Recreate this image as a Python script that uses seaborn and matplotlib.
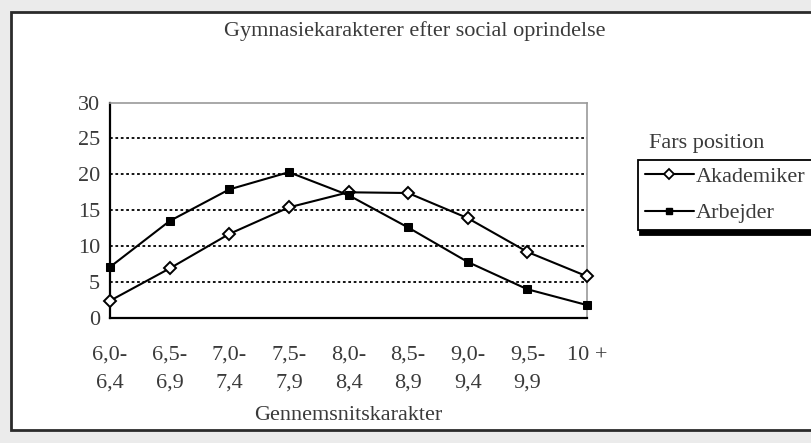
import numpy as np
import pandas as pd
import matplotlib.pyplot as plt
import seaborn as sns
from matplotlib.patches import Rectangle

# data
karakterer = ['6,0-\n6,4', '6,5-\n6,9', '7,0-\n7,4', '7,5-\n7,9', '8,0-\n8,4',
              '8,5-\n8,9', '9,0-\n9,4', '9,5-\n9,9', '10 +']
akademiker = [2.4, 6.9, 11.7, 15.4, 17.5, 17.4, 13.9, 9.2, 5.8]
arbejder = [7.1, 13.5, 17.9, 20.3, 17.1, 12.6, 7.8, 4.0, 1.8]

df = pd.DataFrame({
    'pos': list(range(len(karakterer))) * 2,
    'andel': akademiker + arbejder,
    'Fars position': ['Akademiker'] * len(akademiker) + ['Arbejder'] * len(arbejder),
})

sns.set_style('white')
plt.rcParams['font.family'] = ['Liberation Serif', 'DejaVu Serif']
txt = '#3a3a3a'
fs = 16

fig = plt.figure(figsize=(8.11, 4.43), dpi=100)
fig.patch.set_facecolor('#ebebeb')

# white panel with dark frame
fig.patches.append(Rectangle((11 / 811, 13 / 443), 810 / 811, 418 / 443,
                             transform=fig.transFigure, facecolor='white',
                             edgecolor='#2b2b2b', linewidth=2, zorder=-10))

ax = fig.add_axes([110 / 811, 1 - 318 / 443, 477 / 811, 215.5 / 443])
ax.set_facecolor('white')

sns.lineplot(data=df, x='pos', y='andel', hue='Fars position', style='Fars position',
             palette=['black', 'black'], markers={'Akademiker': 'D', 'Arbejder': 's'},
             dashes=False, linewidth=1.5, markersize=6, ax=ax, legend=False,
             clip_on=False, zorder=3)
# open diamonds for Akademiker, filled squares for Arbejder
ax.lines[0].set_markerfacecolor('white')
ax.lines[0].set_markeredgecolor('black')
ax.lines[0].set_markeredgewidth(1.4)
ax.lines[0].set_markersize(6.5)
ax.lines[1].set_markerfacecolor('black')
ax.lines[1].set_markeredgecolor('black')
ax.lines[1].set_markersize(5.5)

ax.set_xlim(0, 8)
ax.set_ylim(0, 30)
ax.set_yticks(range(0, 31, 5))
ax.set_xticks(range(len(karakterer)))
ax.set_xticklabels(karakterer, linespacing=1.6, va='top')
for y in range(5, 30, 5):
    ax.axhline(y, color='black', linestyle=(0, (1.5, 1.5)), linewidth=1.3, zorder=1)

for s in ['top', 'right']:
    ax.spines[s].set_color('#9a9a9a')
    ax.spines[s].set_linewidth(1.2)
for s in ['left', 'bottom']:
    ax.spines[s].set_color('black')
    ax.spines[s].set_linewidth(1.6)

ax.tick_params(axis='both', direction='inout', length=8, width=1.3, color='black',
               labelsize=fs, labelcolor=txt)
ax.tick_params(axis='x', pad=16)
ax.tick_params(axis='y', pad=3)
ax.set_xlabel('Gennemsnitskarakter', fontsize=fs, color=txt, labelpad=10)
ax.set_ylabel('')

fig.text(415 / 811, 1 - 31 / 443, 'Gymnasiekarakterer efter social oprindelse',
         ha='center', va='center', fontsize=fs, color=txt)

# legend with title above the box (Excel style)
fig.text(649 / 811, 1 - 143 / 443, 'Fars position', ha='left', va='center',
         fontsize=fs, color=txt)
handles = [plt.Line2D([], [], color='black', lw=1.5, marker='D', markerfacecolor='white',
                      markeredgecolor='black', markeredgewidth=1.3, markersize=5),
           plt.Line2D([], [], color='black', lw=1.5, marker='s', markersize=4.5)]
leg = fig.legend(handles, ['Akademiker', 'Arbejder'], loc='upper left',
                 bbox_to_anchor=(638 / 811, 1 - 160 / 443), frameon=True,
                 fancybox=False, shadow={'color': 'black', 'alpha': 1, 'ox': 1.5, 'oy': -3.5},
                 edgecolor='black', fontsize=fs, handlelength=2.2, handletextpad=0.1,
                 borderpad=0.3, labelspacing=0.7, borderaxespad=0)
leg.get_frame().set_linewidth(1.3)
for t in leg.get_texts():
    t.set_color(txt)

fig.savefig('out.png', dpi=100, facecolor=fig.get_facecolor())
